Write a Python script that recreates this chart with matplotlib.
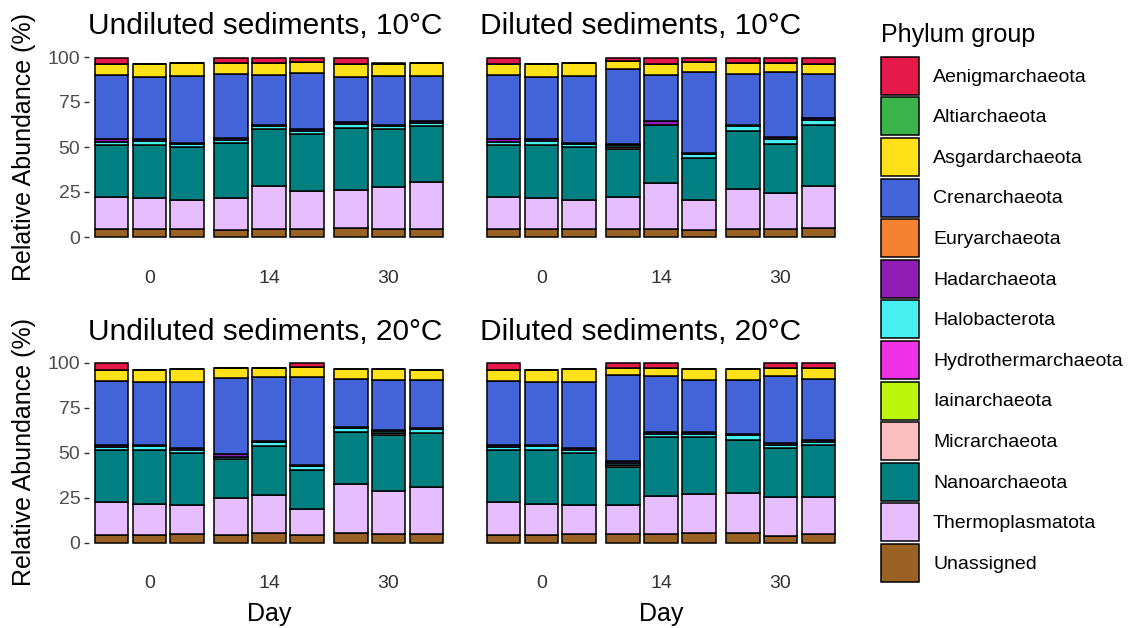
import matplotlib.pyplot as plt
from matplotlib.patches import Patch
import numpy as np

plt.rcParams['font.family'] = ['Liberation Sans', 'DejaVu Sans']

days = ['0', '14', '30']
n_rep = 3

phyla = ['Aenigmarchaeota', 'Altiarchaeota', 'Asgardarchaeota', 'Crenarchaeota',
         'Euryarchaeota', 'Hadarchaeota', 'Halobacterota', 'Hydrothermarchaeota',
         'Iainarchaeota', 'Micrarchaeota', 'Nanoarchaeota', 'Thermoplasmatota',
         'Unassigned']
colors = ['#E6194B', '#3CB44B', '#FFE119', '#4363D8', '#F58231', '#911EB4',
          '#46F0F0', '#F032E6', '#BCF60C', '#FABEBE', '#008080', '#E6BEFF',
          '#9A6324']

# relative abundance (%) per phylum, 9 samples: day 0, 14, 30 x 3 replicates
undiluted_10 = {
    'Unassigned':       [4.3, 4.3, 4.6, 3.9, 4.3, 4.3, 5.0, 4.3, 4.3],
    'Thermoplasmatota': [18.1, 17.2, 16.0, 18.0, 24.0, 21.3, 21.3, 23.5, 26.4],
    'Nanoarchaeota':    [28.9, 29.8, 29.4, 30.1, 31.5, 31.4, 34.4, 32.0, 31.0],
    'Halobacterota':    [1.7, 2.2, 1.5, 1.9, 1.9, 1.7, 2.3, 1.7, 1.4],
    'Hadarchaeota':     [1.3, 0.9, 0.9, 1.1, 0.7, 1.3, 0.9, 0.9, 1.3],
    'Crenarchaeota':    [35.5, 34.5, 37.0, 35.4, 27.4, 31.3, 25.0, 27.0, 25.0],
    'Asgardarchaeota':  [6.3, 7.0, 7.1, 6.5, 6.7, 5.9, 7.4, 6.5, 7.1],
    'Aenigmarchaeota':  [3.5, 0.0, 0.0, 2.7, 3.1, 2.4, 3.3, 0.6, 0.0],
}
diluted_10 = {
    'Unassigned':       [4.3, 4.3, 4.6, 4.3, 4.3, 3.7, 4.6, 4.6, 5.2],
    'Thermoplasmatota': [18.1, 17.2, 16.0, 18.1, 25.9, 16.9, 22.3, 20.0, 23.1],
    'Nanoarchaeota':    [28.9, 29.8, 29.4, 26.3, 32.0, 23.1, 32.0, 26.9, 33.9],
    'Micrarchaeota':    [0.0, 0.0, 0.0, 1.1, 0.0, 0.0, 0.0, 0.0, 0.0],
    'Halobacterota':    [1.7, 2.2, 1.5, 1.1, 0.0, 2.6, 2.8, 3.1, 2.8],
    'Hadarchaeota':     [1.3, 0.9, 0.9, 1.0, 2.2, 0.6, 0.7, 1.0, 1.3],
    'Crenarchaeota':    [35.5, 34.5, 37.0, 41.6, 25.6, 44.8, 28.0, 36.1, 24.1],
    'Asgardarchaeota':  [6.3, 7.0, 7.1, 4.3, 6.3, 5.7, 6.5, 5.2, 5.9],
    'Aenigmarchaeota':  [3.5, 0.0, 0.0, 1.6, 3.1, 2.0, 2.5, 2.5, 3.1],
}
undiluted_20 = {
    'Unassigned':       [4.3, 4.3, 4.6, 4.3, 5.5, 4.3, 5.2, 4.6, 4.8],
    'Thermoplasmatota': [18.1, 17.2, 16.0, 20.7, 20.9, 14.4, 27.1, 24.1, 26.3],
    'Nanoarchaeota':    [28.9, 29.8, 29.4, 21.4, 27.0, 21.6, 29.3, 31.0, 29.5],
    'Micrarchaeota':    [0.0, 0.0, 0.0, 0.0, 0.0, 0.0, 0.0, 1.3, 0.0],
    'Halobacterota':    [1.7, 2.2, 1.5, 1.1, 2.2, 2.2, 1.8, 0.9, 2.4],
    'Hadarchaeota':     [1.3, 0.9, 0.9, 1.5, 0.8, 0.6, 0.9, 0.8, 0.8],
    'Crenarchaeota':    [35.5, 34.5, 37.0, 42.5, 35.6, 48.9, 26.8, 27.5, 26.4],
    'Asgardarchaeota':  [6.3, 7.0, 7.1, 5.2, 5.2, 5.6, 5.2, 6.1, 5.7],
    'Aenigmarchaeota':  [3.5, 0.0, 0.0, 0.0, 0.0, 2.0, 0.0, 0.0, 0.0],
}
diluted_20 = {
    'Unassigned':       [4.3, 4.3, 4.6, 4.6, 4.6, 5.2, 5.2, 3.7, 4.8],
    'Thermoplasmatota': [18.1, 17.2, 16.0, 16.3, 21.5, 21.8, 22.5, 21.8, 20.3],
    'Nanoarchaeota':    [28.9, 29.8, 29.4, 21.2, 32.7, 31.4, 29.2, 27.2, 29.1],
    'Micrarchaeota':    [0.0, 0.0, 0.0, 0.9, 0.0, 0.0, 0.0, 0.0, 0.0],
    'Halobacterota':    [1.7, 2.2, 1.5, 1.0, 1.6, 2.0, 2.8, 1.5, 1.8],
    'Hadarchaeota':     [1.3, 0.9, 0.9, 1.3, 0.8, 1.0, 0.7, 0.9, 0.9],
    'Crenarchaeota':    [35.5, 34.5, 37.0, 47.7, 31.4, 28.8, 29.8, 37.5, 34.2],
    'Asgardarchaeota':  [6.3, 7.0, 7.1, 4.2, 4.6, 6.1, 6.1, 4.4, 5.6],
    'Aenigmarchaeota':  [3.5, 0.0, 0.0, 2.4, 2.4, 0.0, 0.0, 2.6, 2.9],
}

panels = [
    ('Undiluted sediments, 10°C', undiluted_10),
    ('Diluted sediments, 10°C', diluted_10),
    ('Undiluted sediments, 20°C', undiluted_20),
    ('Diluted sediments, 20°C', diluted_20),
]

# bar positions: 3 replicates dodged around each day
bar_w = 0.283
rep_step = 0.317
day_idx = np.repeat(np.arange(len(days)), n_rep)
rep_idx = np.tile(np.arange(n_rep), len(days))
xpos = day_idx + (rep_idx - 1) * rep_step

fig = plt.figure(figsize=(11.32, 6.28), dpi=100)
W, H = 1132, 628
ax_boxes = [
    (88.5, 48, 361, 198),
    (480.5, 48, 361, 198),
    (88.5, 353.5, 361, 198),
    (480.5, 353.5, 361, 198),
]

for i, (title, data) in enumerate(panels):
    x0, y0, w, h = ax_boxes[i]
    ax = fig.add_axes([x0 / W, 1 - (y0 + h) / H, w / W, h / H])
    bottom = np.zeros(len(xpos))
    # stack from the bottom of the legend upwards
    for name, col in zip(phyla[::-1], colors[::-1]):
        vals = np.array(data.get(name, np.zeros(len(xpos))))
        ax.bar(xpos, vals, width=bar_w, bottom=bottom, color=col,
               edgecolor='black', linewidth=1.1)
        bottom += vals
    ax.set_xlim(-0.51, 2.51)
    ax.set_ylim(-5, 105)
    ax.set_xticks(range(len(days)))
    ax.set_xticklabels(days)
    ax.tick_params(axis='x', length=0, pad=17, labelsize=14, colors='#333333')
    for s in ax.spines.values():
        s.set_visible(False)
    ax.set_title(title, loc='left', fontsize=21.5, pad=10)
    if i % 2 == 0:
        ax.set_yticks([0, 25, 50, 75, 100])
        ax.tick_params(axis='y', length=3.8, width=1, color='#333333',
                       labelsize=14, labelcolor='#4D4D4D', pad=2)
        fig.text(24 / W, 1 - (y0 + h / 2) / H, 'Relative Abundance (%)',
                 rotation=90, ha='center', va='center', fontsize=18)
    else:
        ax.set_yticks([])
    if i >= 2:
        ax.set_xlabel('Day', fontsize=18, labelpad=7)

handles = [Patch(facecolor=c, edgecolor='black', linewidth=1.1) for c in colors]
leg = fig.legend(handles, phyla, loc='upper left', bbox_to_anchor=(881 / W, 1 - 23 / H),
                 frameon=False, fontsize=14, title='Phylum group', title_fontsize=18,
                 handlelength=1.955, handleheight=2.63, labelspacing=0.134,
                 handletextpad=0.72, borderpad=0, borderaxespad=0)
leg._legend_box.align = 'left'
# extra room between the legend title and the keys
leg._legend_box.sep = 7

fig.savefig('out.png', dpi=100)
